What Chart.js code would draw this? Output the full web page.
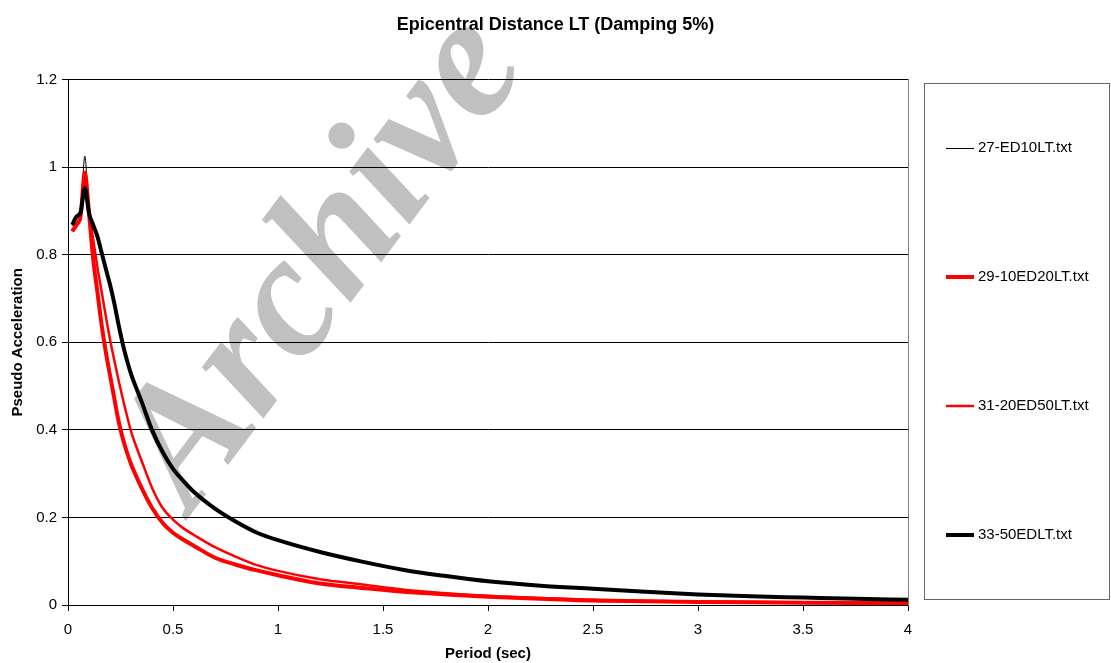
<!DOCTYPE html>
<html>
<head>
<meta charset="utf-8">
<title>Epicentral Distance LT (Damping 5%)</title>
<script src="https://cdn.jsdelivr.net/npm/chart.js@4.4.1/dist/chart.umd.min.js"></script>
<style>
    html, body { margin: 0; padding: 0; background: #fff; }
    #chart { display: block; }
</style>
</head>
<body>
<canvas id="chart" width="1111" height="663"></canvas>
<script>
// period (sec)
var periods = [0.02, 0.04, 0.06, 0.08, 0.1, 0.12, 0.14, 0.16, 0.18, 0.2,
    0.22, 0.24, 0.26, 0.28, 0.3, 0.35, 0.4, 0.45, 0.5, 0.55,
    0.6, 0.7, 0.8, 0.9, 1.0, 1.2, 1.4, 1.6, 1.8, 2.0,
    2.25, 2.5, 2.75, 3.0, 3.25, 3.5, 3.75, 4.0];

// pseudo acceleration, one array per file
var ed10 = [0.866, 0.886, 0.896, 1.025, 0.894, 0.867, 0.841, 0.804, 0.767, 0.732,
    0.690, 0.642, 0.598, 0.560, 0.528, 0.465, 0.400, 0.350, 0.311, 0.283,
    0.258, 0.220, 0.190, 0.165, 0.148, 0.121, 0.099, 0.080, 0.066, 0.054,
    0.044, 0.037, 0.030, 0.024, 0.020, 0.017, 0.014, 0.012];
var ed20 = [0.853, 0.868, 0.888, 0.987, 0.895, 0.790, 0.715, 0.640, 0.578, 0.525,
    0.473, 0.422, 0.382, 0.350, 0.322, 0.268, 0.222, 0.188, 0.165, 0.149,
    0.135, 0.108, 0.092, 0.079, 0.068, 0.049, 0.039, 0.030, 0.024, 0.019,
    0.014, 0.010, 0.0085, 0.007, 0.006, 0.0053, 0.0048, 0.0044];
var ed50 = [0.855, 0.872, 0.892, 0.985, 0.905, 0.835, 0.772, 0.716, 0.660, 0.607,
    0.560, 0.515, 0.473, 0.434, 0.397, 0.330, 0.268, 0.222, 0.195, 0.175,
    0.160, 0.132, 0.110, 0.091, 0.078, 0.059, 0.047, 0.035, 0.027, 0.021,
    0.016, 0.012, 0.0095, 0.008, 0.0068, 0.006, 0.0053, 0.0048];
var ed50lt = [0.868, 0.887, 0.897, 0.952, 0.895, 0.868, 0.842, 0.805, 0.768, 0.732,
    0.690, 0.642, 0.598, 0.560, 0.528, 0.465, 0.400, 0.350, 0.311, 0.283,
    0.258, 0.220, 0.190, 0.165, 0.148, 0.121, 0.099, 0.080, 0.066, 0.054,
    0.044, 0.037, 0.030, 0.024, 0.020, 0.017, 0.014, 0.012];

var seriesNames = ['27-ED10LT.txt', '29-10ED20LT.txt', '31-20ED50LT.txt', '33-50EDLT.txt'];

var FONT = '"Liberation Sans", Arial, sans-serif';

function toPoints(values) {
    return values.map(function(v, i) {
        return { x: periods[i], y: v };
    });
}

// 1 instead of 1.0, 0.5 stays 0.5
function plainNumber(value) {
    return String(Math.round(value * 10) / 10);
}

// grey "Archive" stamp behind everything
var watermark = {
    id: 'watermark',
    beforeDraw: function(chart) {
        var ctx = chart.ctx;
        ctx.save();
        ctx.translate(360, 290);
        ctx.rotate(-53 * Math.PI / 180);
        ctx.font = 'italic bold 174px "Liberation Serif", "Times New Roman", serif';
        ctx.fillStyle = '#c0c0c0';
        ctx.textAlign = 'center';
        ctx.textBaseline = 'alphabetic';
        ctx.fillText('Archive', 0, 0);
        ctx.restore();
    }
};

// excel style legend box on the right, rows spread over the box height
var boxLegend = {
    id: 'boxLegend',
    afterDraw: function(chart) {
        var ctx = chart.ctx;
        var left = 924, top = 83, width = 186, height = 516;
        var datasets = chart.data.datasets;
        var rowHeight = height / datasets.length;
        ctx.save();
        ctx.strokeStyle = '#666';
        ctx.lineWidth = 1;
        ctx.strokeRect(left + 0.5, top + 0.5, width - 1, height);
        ctx.font = '15px ' + FONT;
        ctx.textBaseline = 'middle';
        ctx.textAlign = 'left';
        datasets.forEach(function(ds, i) {
            var y = Math.round(top + rowHeight * (i + 0.5));
            var lineY = ds.borderWidth % 2 === 1 ? y + 0.5 : y;
            ctx.strokeStyle = ds.borderColor;
            ctx.lineWidth = ds.borderWidth;
            ctx.beginPath();
            ctx.moveTo(left + 22, lineY);
            ctx.lineTo(left + 50, lineY);
            ctx.stroke();
            ctx.fillStyle = '#000';
            ctx.fillText(ds.label, left + 54, y);
        });
        ctx.restore();
    }
};

Chart.defaults.font.family = FONT;
Chart.defaults.color = '#000';

var chart = new Chart(document.getElementById('chart'), {
    type: 'line',
    data: {
        datasets: [
            { label: seriesNames[0], data: toPoints(ed10), borderColor: '#000000', borderWidth: 1, order: 4 },
            { label: seriesNames[1], data: toPoints(ed20), borderColor: '#ff0000', borderWidth: 4, order: 3 },
            { label: seriesNames[2], data: toPoints(ed50), borderColor: '#ff0000', borderWidth: 2.5, order: 2 },
            { label: seriesNames[3], data: toPoints(ed50lt), borderColor: '#000000', borderWidth: 4, order: 1 }
        ]
    },
    options: {
        responsive: false,
        animation: false,
        devicePixelRatio: 1,
        elements: {
            point: { radius: 0 },
            line: { cubicInterpolationMode: 'monotone', fill: false, borderJoinStyle: 'round' }
        },
        layout: { padding: 0 },
        plugins: {
            legend: { display: false },
            tooltip: { enabled: false },
            title: {
                display: true,
                text: 'Epicentral Distance LT (Damping 5%)',
                font: { size: 18, weight: 'bold' },
                color: '#000',
                padding: { top: 14, bottom: 44 }
            }
        },
        scales: {
            x: {
                type: 'linear',
                min: 0,
                max: 4,
                ticks: { stepSize: 0.5, font: { size: 15 }, padding: 10, maxRotation: 0, callback: plainNumber },
                grid: { drawOnChartArea: false, drawTicks: true, tickLength: 6, color: '#000' },
                border: { color: '#000' },
                title: {
                    display: true,
                    text: 'Period (sec)',
                    font: { size: 15, weight: 'bold' },
                    padding: { top: 1, bottom: 0 }
                },
                afterFit: function(scale) { scale.height = 58; }
            },
            y: {
                min: 0,
                max: 1.2,
                ticks: { stepSize: 0.2, font: { size: 15 }, padding: 5, callback: plainNumber },
                grid: { color: '#000', tickLength: 6 },
                border: { color: '#000' },
                title: {
                    display: true,
                    text: 'Pseudo Acceleration',
                    font: { size: 15, weight: 'bold' },
                    padding: { top: 9, bottom: 0 }
                },
                afterFit: function(scale) { scale.width = 68; }
            },
            // empty right axis: keeps room for the legend and draws the plot's right edge
            y2: {
                position: 'right',
                min: 0,
                max: 1.2,
                ticks: { display: false },
                grid: { display: false },
                border: { color: '#808080' },
                afterFit: function(scale) { scale.width = 203; }
            }
        }
    },
    plugins: [watermark, boxLegend]
});
</script>
</body>
</html>
